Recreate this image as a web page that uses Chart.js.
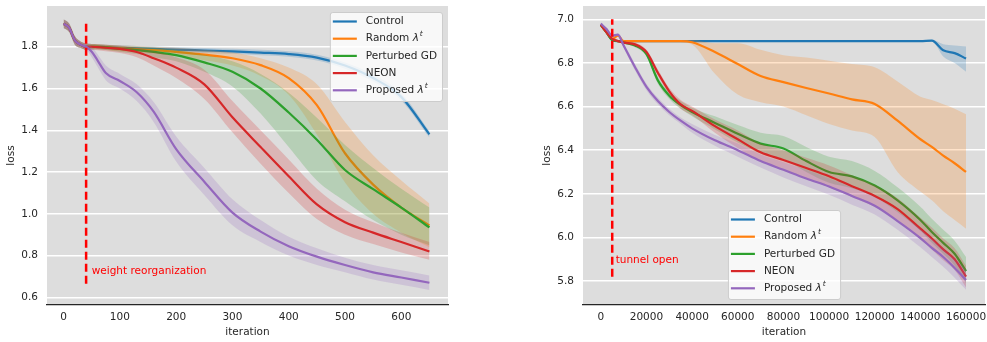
<!DOCTYPE html>
<html>
<head>
<meta charset="utf-8">
<script src="https://cdn.jsdelivr.net/npm/chart.js@4.4.1/dist/chart.umd.min.js"></script>
<style>
  html, body { margin: 0; padding: 0; background: #fff; }
  #wrap { position: relative; width: 987px; height: 342px; overflow: hidden; }
  canvas { position: absolute; top: 0; }
  #lossA { left: 0; }
  #lossB { left: 536px; }
</style>
</head>
<body>
<div id="wrap">
  <canvas id="lossA" width="460" height="342"></canvas>
  <canvas id="lossB" width="451" height="342"></canvas>
</div>
<script>
/* ---- Left panel: loss vs iteration ---- */
const itersA = [0,10,20,30,40,50,60,75,100,130,160,200,250,300,350,400,450,500,550,600,650];

const ctrlA   = [1.91,1.89,1.83,1.81,1.80,1.80,1.80,1.798,1.795,1.792,1.79,1.786,1.782,1.778,1.772,1.765,1.748,1.71,1.65,1.56,1.38];
const ctrlAHi = [1.93,1.91,1.85,1.825,1.815,1.813,1.812,1.81,1.807,1.804,1.802,1.798,1.794,1.79,1.785,1.778,1.762,1.725,1.667,1.577,1.395];
const ctrlALo = [1.89,1.87,1.81,1.795,1.785,1.787,1.788,1.786,1.783,1.78,1.778,1.774,1.77,1.766,1.759,1.752,1.734,1.695,1.633,1.543,1.365];

const randA   = [1.91,1.89,1.83,1.81,1.80,1.80,1.80,1.797,1.792,1.788,1.784,1.775,1.762,1.745,1.712,1.65,1.52,1.29,1.14,1.03,0.945];
const randAHi = [1.93,1.91,1.85,1.825,1.815,1.813,1.812,1.81,1.806,1.803,1.80,1.795,1.785,1.772,1.745,1.70,1.62,1.44,1.28,1.16,1.05];
const randALo = [1.89,1.87,1.81,1.795,1.785,1.787,1.788,1.784,1.778,1.773,1.768,1.755,1.735,1.71,1.66,1.57,1.38,1.15,1.00,0.91,0.84];

const pgdA    = [1.91,1.89,1.83,1.81,1.80,1.80,1.80,1.797,1.79,1.784,1.775,1.76,1.725,1.68,1.60,1.485,1.355,1.21,1.118,1.03,0.935];
const pgdAHi  = [1.93,1.91,1.85,1.825,1.815,1.813,1.812,1.81,1.805,1.80,1.795,1.785,1.762,1.73,1.67,1.58,1.46,1.33,1.22,1.12,1.03];
const pgdALo  = [1.89,1.87,1.81,1.795,1.785,1.787,1.788,1.784,1.775,1.765,1.75,1.73,1.68,1.61,1.48,1.32,1.16,1.06,0.97,0.90,0.85];

const neonA   = [1.91,1.89,1.83,1.81,1.80,1.80,1.798,1.795,1.79,1.775,1.745,1.70,1.62,1.462,1.32,1.18,1.045,0.96,0.91,0.865,0.82];
const neonAHi = [1.93,1.91,1.85,1.825,1.815,1.813,1.812,1.81,1.805,1.795,1.78,1.75,1.69,1.54,1.40,1.26,1.12,1.02,0.96,0.91,0.865];
const neonALo = [1.89,1.87,1.81,1.795,1.785,1.785,1.783,1.778,1.77,1.75,1.71,1.65,1.55,1.39,1.24,1.10,0.975,0.90,0.855,0.815,0.78];

const propA   = [1.91,1.89,1.83,1.81,1.80,1.776,1.736,1.674,1.636,1.582,1.489,1.31,1.154,1.006,0.915,0.845,0.795,0.755,0.72,0.695,0.67];
const propAHi = [1.93,1.91,1.85,1.825,1.815,1.80,1.765,1.71,1.67,1.62,1.535,1.37,1.22,1.07,0.97,0.89,0.835,0.79,0.755,0.73,0.705];
const propALo = [1.89,1.87,1.81,1.795,1.785,1.75,1.705,1.64,1.60,1.54,1.44,1.25,1.09,0.945,0.865,0.80,0.755,0.72,0.685,0.66,0.635];

const xTicksA = [0,100,200,300,400,500,600];
const yTicksA = [0.6,0.8,1.0,1.2,1.4,1.6,1.8];
const markAX  = 40;
const markAY  = [0.665, 1.91];
const noteA   = 'weight reorganization';
const noteAAt = [50, 0.70];

/* ---- Right panel: loss vs iteration ---- */
const itersB = [0,2500,5000,7500,10000,15000,20000,25000,30000,35000,40000,50000,60000,70000,80000,90000,100000,110000,120000,130000,140000,145000,150000,155000,160000];

const ctrlB   = [6.975,6.94,6.905,6.90,6.90,6.90,6.90,6.90,6.90,6.90,6.90,6.90,6.90,6.90,6.90,6.90,6.90,6.90,6.90,6.90,6.90,6.902,6.858,6.845,6.82];
const ctrlBHi = [6.98,6.945,6.91,6.904,6.904,6.904,6.904,6.904,6.904,6.904,6.904,6.904,6.904,6.904,6.904,6.904,6.904,6.904,6.904,6.904,6.904,6.906,6.886,6.88,6.875];
const ctrlBLo = [6.97,6.935,6.90,6.896,6.896,6.896,6.896,6.896,6.896,6.896,6.896,6.896,6.896,6.896,6.896,6.896,6.896,6.896,6.896,6.896,6.896,6.898,6.83,6.80,6.76];

const randB   = [6.975,6.94,6.91,6.925,6.90,6.90,6.90,6.90,6.90,6.90,6.895,6.85,6.795,6.74,6.712,6.685,6.66,6.633,6.612,6.535,6.45,6.415,6.375,6.34,6.30];
const randBHi = [6.98,6.945,6.915,6.93,6.905,6.905,6.905,6.905,6.905,6.905,6.905,6.89,6.89,6.86,6.835,6.825,6.81,6.795,6.78,6.715,6.645,6.63,6.61,6.59,6.565];
const randBLo = [6.97,6.935,6.905,6.92,6.895,6.895,6.895,6.895,6.895,6.895,6.885,6.75,6.655,6.62,6.60,6.56,6.52,6.49,6.46,6.30,6.21,6.17,6.12,6.08,6.04];

const pgdB    = [6.975,6.94,6.905,6.90,6.893,6.88,6.84,6.72,6.65,6.607,6.575,6.525,6.475,6.43,6.408,6.35,6.30,6.28,6.238,6.17,6.08,6.025,5.975,5.925,5.845];
const pgdBHi  = [6.98,6.945,6.91,6.905,6.898,6.888,6.85,6.735,6.665,6.625,6.595,6.555,6.515,6.48,6.465,6.415,6.37,6.35,6.305,6.23,6.14,6.085,6.035,5.985,5.91];
const pgdBLo  = [6.97,6.935,6.90,6.895,6.888,6.872,6.83,6.705,6.635,6.59,6.555,6.495,6.435,6.385,6.36,6.30,6.25,6.225,6.185,6.115,6.03,5.975,5.925,5.87,5.79];

const neonB   = [6.975,6.94,6.91,6.90,6.893,6.885,6.85,6.755,6.67,6.61,6.58,6.51,6.45,6.39,6.355,6.318,6.28,6.235,6.19,6.13,6.04,5.995,5.945,5.90,5.82];
const neonBHi = [6.98,6.945,6.915,6.905,6.898,6.893,6.86,6.77,6.685,6.63,6.60,6.54,6.49,6.43,6.40,6.365,6.33,6.285,6.24,6.18,6.09,6.045,5.995,5.95,5.87];
const neonBLo = [6.97,6.935,6.905,6.895,6.888,6.877,6.84,6.74,6.655,6.59,6.56,6.48,6.41,6.35,6.31,6.27,6.23,6.185,6.14,6.08,5.99,5.945,5.895,5.85,5.77];

const propB   = [6.98,6.955,6.925,6.93,6.88,6.78,6.69,6.625,6.575,6.535,6.50,6.445,6.40,6.35,6.31,6.27,6.233,6.19,6.145,6.075,5.997,5.952,5.91,5.86,5.805];
const propBHi = [6.985,6.96,6.93,6.935,6.89,6.795,6.705,6.64,6.59,6.55,6.52,6.47,6.43,6.38,6.345,6.31,6.27,6.23,6.185,6.12,6.04,5.995,5.95,5.905,5.85];
const propBLo = [6.975,6.95,6.92,6.925,6.87,6.765,6.675,6.61,6.56,6.52,6.48,6.42,6.37,6.32,6.275,6.235,6.195,6.15,6.105,6.035,5.955,5.91,5.865,5.815,5.76];

const xTicksB = [0,20000,40000,60000,80000,100000,120000,140000,160000];
const yTicksB = [5.8,6.0,6.2,6.4,6.6,6.8,7.0];
const markBX  = 5000;
const markBY  = [5.82, 7.0];
const noteB   = 'tunnel open';
const noteBAt = [6500, 5.87];

const seriesLabels = ['Control', 'Random λ^t', 'Perturbed GD', 'NEON', 'Proposed λ^t'];
const seriesColors = ['#1f77b4', '#ff7f0e', '#2ca02c', '#d62728', '#9467bd'];

/* ---- shared look ---- */
const FONT_FAMILY = "'DejaVu Sans', sans-serif";
const FONT = '10.5px ' + FONT_FAMILY;
const INK  = '#262626';
Chart.defaults.font.family = FONT_FAMILY;
Chart.defaults.font.size = 10.5;
Chart.defaults.color = INK;

function pts(xs, ys) { return xs.map((x, i) => ({ x, y: ys[i] })); }

function hexA(hex, a) {
  const n = parseInt(hex.slice(1), 16);
  return `rgba(${n >> 16},${(n >> 8) & 255},${n & 255},${a})`;
}

// draws "Random λ^t" with italic lambda and a raised t
function richText(ctx, label, x, y, draw) {
  const m = label.match(/^(.*?)(λ)\^(\w)$/);
  ctx.font = FONT;
  if (!m) {
    if (draw) ctx.fillText(label, x, y);
    return ctx.measureText(label).width;
  }
  let w = 0;
  if (draw) ctx.fillText(m[1], x, y);
  w += ctx.measureText(m[1]).width;
  ctx.font = 'italic ' + FONT;
  if (draw) ctx.fillText(m[2], x + w, y);
  w += ctx.measureText(m[2]).width + 1;
  ctx.font = 'italic 7.5px ' + FONT_FAMILY;
  if (draw) ctx.fillText(m[3], x + w, y - 4.5);
  w += ctx.measureText(m[3]).width;
  ctx.font = FONT;
  return w;
}

// grey plotting area
const panelBg = {
  id: 'panelBg',
  beforeDraw(chart) {
    const { ctx, chartArea: a } = chart;
    ctx.save();
    ctx.fillStyle = '#dddddd';
    ctx.fillRect(a.left, a.top, a.right - a.left, a.bottom - a.top);
    ctx.restore();
  }
};

// red annotation text next to the dashed marker
const noteText = {
  id: 'noteText',
  afterDatasetsDraw(chart, args, o) {
    const { ctx, scales } = chart;
    ctx.save();
    ctx.font = FONT;
    ctx.fillStyle = '#ff0000';
    ctx.textBaseline = 'bottom';
    ctx.fillText(o.text, scales.x.getPixelForValue(o.at[0]), scales.y.getPixelForValue(o.at[1]));
    ctx.restore();
  }
};

// matplotlib-like legend box inside the axes
const legendBox = {
  id: 'legendBox',
  afterDraw(chart, args, o) {
    const { ctx, chartArea: a } = chart;
    ctx.save();
    const textW = Math.max(...seriesLabels.map(l => richText(ctx, l, 0, 0, false)));
    const w = 36 + textW + 5;
    const h = 89;
    const x = o.where === 'upper right' ? a.right - 6 - w : (a.left + a.right) / 2 - w / 2;
    const y = o.where === 'upper right' ? a.top + 6 : a.bottom - 6 - h;
    ctx.beginPath();
    ctx.roundRect(x + 0.5, y + 0.5, w, h, 2.5);
    ctx.fillStyle = 'rgba(255,255,255,0.8)';
    ctx.fill();
    ctx.strokeStyle = '#cccccc';
    ctx.lineWidth = 1;
    ctx.stroke();
    ctx.textBaseline = 'middle';
    seriesLabels.forEach((label, i) => {
      const cy = y + 9.5 + i * 17.2;
      ctx.strokeStyle = seriesColors[i];
      ctx.lineWidth = 2.2;
      ctx.beginPath();
      ctx.moveTo(x + 3, cy);
      ctx.lineTo(x + 27, cy);
      ctx.stroke();
      ctx.fillStyle = INK;
      richText(ctx, label, x + 36, cy, true);
    });
    ctx.restore();
  }
};

function buildDatasets(xs, series, markX, markY) {
  const sets = [];
  series.forEach((s, k) => {
    const base = { pointRadius: 0, borderWidth: 0, cubicInterpolationMode: 'monotone' };
    sets.push({ ...base, data: pts(xs, s.hi), fill: false, order: 100 - 10 * k });
    sets.push({ ...base, data: pts(xs, s.lo), fill: '-1', backgroundColor: hexA(seriesColors[k], 0.22), order: 99 - 10 * k });
    sets.push({ ...base, data: pts(xs, s.mean), fill: false, borderColor: seriesColors[k], borderWidth: 2.2, order: 98 - 10 * k });
  });
  sets.push({
    data: [{ x: markX, y: markY[0] }, { x: markX, y: markY[1] }],
    borderColor: '#ff0000', borderWidth: 2.5, borderDash: [8, 4],
    pointRadius: 0, fill: false, order: 0
  });
  return sets;
}

function makeChart(id, cfg) {
  return new Chart(document.getElementById(id), {
    type: 'line',
    data: { datasets: buildDatasets(cfg.xs, cfg.series, cfg.markX, cfg.markY) },
    options: {
      responsive: false,
      animation: false,
      devicePixelRatio: 1,
      layout: { padding: { left: 0, top: 6, right: cfg.padRight, bottom: 0 } },
      plugins: {
        legend: { display: false },
        tooltip: { enabled: false },
        noteText: { text: cfg.note, at: cfg.noteAt },
        legendBox: { where: cfg.legendAt }
      },
      scales: {
        x: {
          type: 'linear',
          min: cfg.xRange[0], max: cfg.xRange[1],
          afterBuildTicks: s => { s.ticks = cfg.xTicks.map(v => ({ value: v })); },
          afterFit: s => { s.height = 37; s.paddingLeft = 0; s.paddingRight = 0; },
          ticks: { padding: 6, maxRotation: 0, color: INK, callback: v => String(v) },
          grid: { display: false, drawTicks: false },
          border: { display: true, color: INK, width: 1.2 },
          title: { display: true, text: 'iteration', color: INK, padding: { top: 0, bottom: 3 } }
        },
        y: {
          min: cfg.yRange[0], max: cfg.yRange[1],
          afterBuildTicks: s => { s.ticks = cfg.yTicks.map(v => ({ value: v })); },
          afterFit: s => { s.width = 47; s.paddingTop = 0; s.paddingBottom = 0; },
          ticks: { padding: 9, color: INK, callback: v => Number(v).toFixed(1) },
          grid: { color: '#ffffff', lineWidth: 1.5, drawTicks: false },
          border: { display: false },
          title: { display: true, text: 'loss', color: INK, padding: { top: 5, bottom: 0 } }
        }
      }
    },
    plugins: [panelBg, noteText, legendBox]
  });
}

makeChart('lossA', {
  xs: itersA,
  series: [
    { mean: ctrlA, lo: ctrlALo, hi: ctrlAHi },
    { mean: randA, lo: randALo, hi: randAHi },
    { mean: pgdA,  lo: pgdALo,  hi: pgdAHi },
    { mean: neonA, lo: neonALo, hi: neonAHi },
    { mean: propA, lo: propALo, hi: propAHi }
  ],
  markX: markAX, markY: markAY,
  note: noteA, noteAt: noteAAt,
  xTicks: xTicksA, yTicks: yTicksA,
  xRange: [-29.5, 683], yRange: [0.5635, 1.995],
  padRight: 12,
  legendAt: 'upper right'
});

makeChart('lossB', {
  xs: itersB,
  series: [
    { mean: ctrlB, lo: ctrlBLo, hi: ctrlBHi },
    { mean: randB, lo: randBLo, hi: randBHi },
    { mean: pgdB,  lo: pgdBLo,  hi: pgdBHi },
    { mean: neonB, lo: neonBLo, hi: neonBHi },
    { mean: propB, lo: propBLo, hi: propBHi }
  ],
  markX: markBX, markY: markBY,
  note: noteB, noteAt: noteBAt,
  xTicks: xTicksB, yTicks: yTicksB,
  xRange: [-7800, 168300], yRange: [5.69, 7.061],
  padRight: 2,
  legendAt: 'lower center'
});
</script>
</body>
</html>
